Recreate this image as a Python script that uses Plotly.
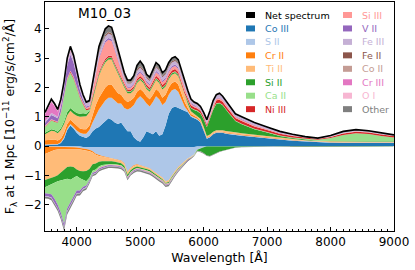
import plotly.graph_objects as go

wavelength = [3500,3550,3600,3650,3700,3750,3800,3850,3900,3950,
              4000,4050,4100,4150,4200,4250,4300,4350,4400,4450,
              4500,4550,4600,4650,4700,4750,4800,4850,4900,4950,
              5000,5050,5100,5150,5200,5250,5300,5350,5400,5450,
              5500,5550,5600,5650,5700,5750,5800,5850,5900,5950,
              6000,6050,6100,6150,6200,6250,6300,6350,6400,6450,
              6500,6600,6800,7000,7200,7400,7600,7800,8000,8200,8400,8600,8800,9000]

net_spectrum = [1.15,1.35,1.60,1.45,1.25,1.60,2.20,3.00,3.40,3.10,
                2.60,2.10,1.75,1.50,1.55,2.20,2.90,3.40,3.70,4.00,
                4.10,4.05,3.70,3.30,2.90,2.50,2.25,2.25,2.40,2.75,
                2.90,2.75,2.45,2.35,2.60,2.85,2.75,2.50,2.60,2.85,
                3.00,3.05,2.95,2.60,2.20,1.90,1.60,1.50,1.45,1.35,
                1.15,0.90,1.20,1.55,1.75,1.80,1.70,1.55,1.40,1.25,
                1.10,1.00,0.80,0.65,0.50,0.40,0.32,0.27,0.36,0.50,0.56,0.52,0.44,0.38]

# ---- emission contributions (positive) ----
co3_em = [0.03,0.04,0.05,0.05,0.05,0.10,0.25,0.55,0.70,0.60,
          0.45,0.35,0.30,0.27,0.35,0.50,0.60,0.65,0.75,0.85,
          0.95,0.90,0.80,0.75,0.80,0.65,0.50,0.50,0.30,0.20,
          0.15,0.30,0.50,0.45,0.40,0.50,0.35,0.40,0.70,1.10,
          1.30,1.35,1.30,1.25,1.20,1.15,1.00,0.95,0.90,0.80,
          0.55,0.25,0.30,0.40,0.45,0.45,0.45,0.42,0.40,0.40,
          0.38,0.35,0.30,0.27,0.22,0.18,0.15,0.12,0.11,0.10,0.10,0.10,0.10,0.10]
s2_em = [0.02,0.02,0.02,0.02,0.02,0.03,0.05,0.05,0.05,0.05,
         0.08,0.10,0.12,0.15,0.20,0.30,0.45,0.60,0.65,0.70,
         0.70,0.75,0.75,0.70,0.65,0.65,0.75,0.80,1.10,1.40,
         1.55,1.30,0.95,0.90,1.10,1.20,1.25,1.00,0.80,0.65,
         0.60,0.60,0.55,0.35,0.15,0.05,0.03,0.03,0.03,0.03,
         0.03,0.02,0.02,0.02,0.02,0.02,0.02,0.02,0.02,0.02,
         0.02,0.02,0.02,0.02,0.02,0.02,0.02,0.02,0.02,0.02,0.02,0.02,0.02,0.02]
cr2_em = [0.15,0.15,0.15,0.15,0.12,0.12,0.15,0.15,0.15,0.15,
          0.15,0.15,0.15,0.15,0.15,0.25,0.35,0.40,0.45,0.45,
          0.45,0.45,0.40,0.35,0.30,0.30,0.25,0.25,0.25,0.25,
          0.25,0.25,0.25,0.25,0.25,0.25,0.25,0.25,0.25,0.25,
          0.25,0.25,0.25,0.20,0.15,0.10,0.06,0.05,0.04,0.04,
          0.03,0.02,0.02,0.02,0.02,0.02,0.02,0.02,0.02,0.02,
          0.02,0.02,0.02,0.02,0.01,0.01,0.01,0.01,0.01,0.01,0.01,0.01,0.01,0.01]
ti2_em = [0.20,0.25,0.30,0.28,0.25,0.30,0.30,0.30,0.30,0.30,
          0.35,0.40,0.45,0.45,0.45,0.55,0.65,0.75,0.80,0.85,
          0.85,0.85,0.75,0.65,0.50,0.40,0.30,0.25,0.25,0.30,
          0.30,0.30,0.25,0.25,0.30,0.30,0.30,0.28,0.28,0.28,
          0.28,0.28,0.28,0.25,0.20,0.15,0.10,0.08,0.07,0.06,
          0.05,0.05,0.05,0.05,0.05,0.05,0.05,0.05,0.05,0.05,
          0.05,0.05,0.05,0.05,0.04,0.03,0.02,0.02,0.02,0.02,0.02,0.02,0.02,0.02]
si2_em = [0.05,0.05,0.05,0.05,0.05,0.06,0.08,0.10,0.10,0.10,
          0.10,0.10,0.10,0.08,0.05,0.05,0.05,0.05,0.05,0.05,
          0.05,0.05,0.05,0.05,0.05,0.05,0.05,0.05,0.05,0.05,
          0.05,0.05,0.05,0.05,0.05,0.05,0.05,0.05,0.05,0.05,
          0.05,0.05,0.05,0.05,0.06,0.08,0.10,0.12,0.15,0.18,
          0.25,0.30,0.52,0.75,0.90,0.92,0.85,0.73,0.62,0.50,
          0.38,0.30,0.18,0.10,0.05,0.03,0.02,0.01,0.01,0.01,0.01,0.01,0.01,0.01]
ca2_em = [0.20,0.25,0.30,0.28,0.30,0.50,0.80,1.10,1.20,1.10,
          0.85,0.55,0.30,0.12,0.05,0.03,0.02,0.02,0.02,0.02,
          0.02,0.02,0.02,0.02,0.02,0.02,0.02,0.02,0.02,0.02,
          0.02,0.02,0.02,0.02,0.02,0.02,0.02,0.02,0.02,0.02,
          0.02,0.02,0.02,0.02,0.02,0.02,0.02,0.02,0.02,0.02,
          0.02,0.02,0.02,0.02,0.02,0.02,0.02,0.02,0.02,0.02,
          0.02,0.02,0.02,0.02,0.02,0.02,0.02,0.03,0.10,0.22,0.28,0.25,0.18,0.13]
ni3_em = [0.02,0.02,0.02,0.02,0.02,0.02,0.03,0.03,0.04,0.04,
          0.04,0.04,0.04,0.04,0.05,0.06,0.06,0.06,0.06,0.06,
          0.06,0.06,0.06,0.06,0.06,0.06,0.06,0.06,0.06,0.07,
          0.07,0.07,0.07,0.07,0.07,0.08,0.08,0.08,0.08,0.08,
          0.08,0.08,0.08,0.08,0.08,0.08,0.08,0.07,0.07,0.07,
          0.07,0.07,0.08,0.09,0.10,0.10,0.10,0.10,0.10,0.09,
          0.09,0.09,0.08,0.07,0.06,0.05,0.04,0.03,0.04,0.05,0.05,0.05,0.05,0.05]
si3_em = [0.02,0.02,0.02,0.02,0.02,0.02,0.02,0.03,0.03,0.03,
          0.03,0.03,0.03,0.04,0.05,0.18,0.35,0.45,0.50,0.55,
          0.55,0.50,0.45,0.35,0.20,0.10,0.06,0.06,0.08,0.10,
          0.12,0.10,0.08,0.08,0.10,0.12,0.12,0.10,0.10,0.10,
          0.10,0.10,0.10,0.10,0.08,0.06,0.05,0.04,0.04,0.04,
          0.04,0.04,0.04,0.05,0.05,0.05,0.05,0.05,0.04,0.04,
          0.04,0.04,0.03,0.02,0.02,0.01,0.01,0.01,0.01,0.01,0.01,0.01,0.01,0.01]
v2_em = [0.10,0.12,0.15,0.14,0.12,0.20,0.30,0.45,0.55,0.48,
         0.35,0.20,0.10,0.05,0.04,0.04,0.05,0.05,0.05,0.06,
         0.06,0.06,0.06,0.05,0.05,0.04,0.04,0.04,0.04,0.05,
         0.05,0.05,0.05,0.05,0.05,0.05,0.05,0.05,0.05,0.05,
         0.05,0.05,0.05,0.05,0.04,0.03,0.03,0.03,0.02,0.02,
         0.02,0.02,0.02,0.02,0.02,0.02,0.02,0.02,0.02,0.02,
         0.02,0.02,0.02,0.01,0.01,0.01,0.00,0.00,0.00,0.00,0.00,0.00,0.00,0.00]
fe3_em = [0.05,0.06,0.07,0.06,0.05,0.06,0.07,0.08,0.10,0.10,
          0.10,0.10,0.10,0.10,0.10,0.12,0.15,0.15,0.15,0.15,
          0.15,0.15,0.15,0.15,0.12,0.10,0.10,0.10,0.10,0.12,
          0.12,0.12,0.10,0.10,0.10,0.12,0.12,0.12,0.12,0.12,
          0.12,0.12,0.12,0.12,0.11,0.10,0.08,0.07,0.07,0.06,
          0.06,0.07,0.10,0.10,0.10,0.12,0.10,0.10,0.10,0.08,
          0.07,0.08,0.07,0.06,0.04,0.03,0.02,0.02,0.02,0.03,0.03,0.02,0.02,0.02]
fe2_em = [0.00,0.00,0.00,0.00,0.00,0.00,0.00,0.00,0.00,0.00,
          0.00,0.00,0.00,0.00,0.02,0.04,0.05,0.05,0.05,0.05,
          0.05,0.05,0.05,0.05,0.05,0.05,0.04,0.04,0.04,0.05,
          0.05,0.05,0.04,0.04,0.04,0.04,0.04,0.04,0.04,0.04,
          0.04,0.04,0.04,0.04,0.03,0.03,0.02,0.02,0.02,0.01,
          0.01,0.01,0.01,0.01,0.01,0.01,0.01,0.01,0.01,0.01,
          0.01,0.01,0.01,0.01,0.01,0.01,0.01,0.00,0.00,0.00,0.00,0.00,0.00,0.00]
co2_em = [0.00,0.00,0.00,0.00,0.00,0.00,0.00,0.00,0.00,0.00,
          0.00,0.00,0.00,0.00,0.00,0.00,0.01,0.01,0.01,0.01,
          0.01,0.01,0.01,0.01,0.00,0.00,0.00,0.00,0.00,0.00,
          0.00,0.00,0.00,0.00,0.00,0.00,0.00,0.00,0.00,0.00,
          0.00,0.00,0.00,0.00,0.00,0.00,0.00,0.00,0.00,0.00,
          0.00,0.00,0.00,0.00,0.00,0.00,0.00,0.00,0.00,0.00,
          0.00,0.00,0.00,0.00,0.00,0.00,0.00,0.00,0.00,0.00,0.00,0.00,0.00,0.00]
cr3_em = [0.25,0.30,0.38,0.30,0.18,0.12,0.08,0.05,0.04,0.03,
          0.02,0.02,0.01,0.01,0.00,0.00,0.00,0.00,0.00,0.00,
          0.00,0.00,0.00,0.00,0.00,0.00,0.00,0.00,0.00,0.00,
          0.00,0.00,0.00,0.00,0.00,0.00,0.00,0.00,0.00,0.00,
          0.00,0.00,0.00,0.00,0.00,0.00,0.00,0.00,0.00,0.00,
          0.00,0.00,0.00,0.00,0.00,0.00,0.00,0.00,0.00,0.00,
          0.00,0.00,0.00,0.00,0.00,0.00,0.00,0.00,0.00,0.00,0.00,0.00,0.00,0.00]
o1_em = [0.02,0.02,0.03,0.03,0.02,0.02,0.02,0.02,0.02,0.02,
         0.02,0.01,0.01,0.00,0.00,0.00,0.00,0.00,0.00,0.00,
         0.00,0.00,0.00,0.00,0.00,0.00,0.00,0.00,0.00,0.00,
         0.00,0.00,0.00,0.00,0.00,0.00,0.00,0.00,0.00,0.00,
         0.00,0.00,0.00,0.00,0.00,0.00,0.00,0.00,0.00,0.00,
         0.00,0.00,0.00,0.00,0.00,0.00,0.00,0.00,0.00,0.00,
         0.00,0.00,0.00,0.00,0.00,0.00,0.00,0.00,0.00,0.00,0.00,0.00,0.00,0.00]
other_em = [0.04,0.05,0.06,0.05,0.05,0.05,0.05,0.09,0.12,0.10,
            0.06,0.05,0.04,0.04,0.04,0.08,0.12,0.17,0.17,0.21,
            0.21,0.21,0.16,0.12,0.10,0.08,0.08,0.08,0.11,0.14,
            0.17,0.14,0.09,0.09,0.12,0.12,0.12,0.11,0.11,0.11,
            0.11,0.11,0.11,0.09,0.08,0.05,0.03,0.02,0.02,0.02,
            0.02,0.03,0.02,0.02,0.01,0.02,0.01,0.01,0.00,0.00,
            0.00,0.00,0.00,0.00,0.00,0.00,0.00,0.00,0.02,0.03,0.03,0.03,0.02,0.01]

# ---- absorption contributions (negative) ----
co3_ab = [0.00,0.00,0.00,0.00,0.00,0.00,0.00,0.00,-0.01,-0.01,
          -0.02,-0.02,-0.03,-0.03,-0.03,-0.03,-0.04,-0.04,-0.04,-0.04,
          -0.04,-0.04,-0.04,-0.04,-0.04,-0.04,-0.04,-0.04,-0.04,-0.04,
          -0.04,-0.04,-0.04,-0.04,-0.04,-0.05,-0.05,-0.05,-0.05,-0.05,
          -0.05,-0.05,-0.04,-0.04,-0.04,-0.03,-0.03,-0.03,-0.02,-0.02,
          -0.02,-0.01,-0.01,-0.01,-0.01,-0.01,-0.01,-0.01,-0.01,-0.01,
          -0.01,-0.01,-0.01,-0.01,-0.01,0.00,0.00,0.00,0.00,0.00,0.00,0.00,0.00,0.00]
s2_ab = [-0.02,-0.02,-0.02,-0.02,-0.02,-0.02,-0.02,-0.02,-0.02,-0.03,
         -0.03,-0.04,-0.05,-0.07,-0.10,-0.15,-0.22,-0.27,-0.30,-0.33,
         -0.35,-0.37,-0.40,-0.42,-0.45,-0.55,-0.85,-0.70,-0.62,-0.58,
         -0.62,-0.65,-0.68,-0.72,-0.80,-0.88,-0.95,-1.02,-1.15,-1.12,
         -0.95,-0.80,-0.68,-0.58,-0.48,-0.40,-0.34,-0.26,-0.10,-0.05,
         -0.02,-0.01,-0.01,0.00,0.00,0.00,0.00,0.00,0.00,0.00,
         0.00,0.00,0.00,0.00,0.00,0.00,0.00,0.00,0.00,0.00,0.00,0.00,0.00,0.00]
cr2_ab = [-0.25,-0.20,-0.15,-0.12,-0.10,-0.10,-0.08,-0.08,-0.07,-0.07,
          -0.07,-0.06,-0.06,-0.05,-0.05,-0.04,-0.04,-0.03,-0.03,-0.03,
          -0.02,-0.02,-0.02,-0.02,-0.02,-0.02,-0.02,-0.02,-0.02,-0.02,
          -0.01,-0.01,-0.01,-0.01,-0.01,-0.01,-0.01,-0.01,-0.01,-0.01,
          -0.01,-0.01,-0.01,-0.01,-0.01,0.00,0.00,0.00,0.00,0.00,
          0.00,0.00,0.00,0.00,0.00,0.00,0.00,0.00,0.00,0.00,
          0.00,0.00,0.00,0.00,0.00,0.00,0.00,0.00,0.00,0.00,0.00,0.00,0.00,0.00]
ti2_ab = [-0.89,-0.91,-0.93,-0.91,-0.88,-0.78,-0.70,-0.62,-0.60,-0.61,
          -0.68,-0.73,-0.72,-0.70,-0.60,-0.40,-0.30,-0.20,-0.15,-0.12,
          -0.10,-0.09,-0.08,-0.08,-0.08,-0.07,-0.07,-0.07,-0.06,-0.06,
          -0.05,-0.05,-0.05,-0.05,-0.05,-0.05,-0.05,-0.05,-0.05,-0.05,
          -0.04,-0.04,-0.04,-0.04,-0.03,-0.03,-0.02,-0.02,-0.01,-0.01,
          0.00,0.00,0.00,0.00,0.00,0.00,0.00,0.00,0.00,0.00,
          0.00,0.00,0.00,0.00,0.00,0.00,0.00,0.00,0.00,0.00,0.00,0.00,0.00,0.00]
si2_ab = [-0.25,-0.22,-0.20,-0.20,-0.20,-0.28,-0.36,-0.40,-0.45,-0.35,
          -0.22,-0.25,-0.28,-0.35,-0.30,-0.22,-0.20,-0.16,-0.13,-0.11,
          -0.10,-0.09,-0.08,-0.08,-0.07,-0.07,-0.07,-0.06,-0.06,-0.05,
          -0.05,-0.05,-0.05,-0.05,-0.04,-0.04,-0.04,-0.04,-0.03,-0.03,
          -0.03,-0.03,-0.02,-0.02,-0.01,-0.01,0.00,0.00,-0.03,-0.10,
          -0.20,-0.30,-0.32,-0.28,-0.22,-0.18,-0.15,-0.12,-0.09,-0.06,
          -0.04,-0.02,-0.01,0.00,0.00,0.00,0.00,0.00,0.00,0.00,0.00,0.00,0.00,0.00]
ca2_ab = [-0.20,-0.27,-0.35,-0.55,-0.80,-1.10,-1.50,-1.00,-0.75,-0.65,
          -0.50,-0.42,-0.25,-0.15,-0.08,-0.07,-0.06,-0.05,-0.05,-0.04,
          -0.03,-0.03,-0.02,-0.02,-0.02,-0.02,-0.01,-0.01,-0.01,-0.01,
          -0.01,-0.01,-0.01,-0.01,-0.01,-0.01,-0.01,-0.01,-0.01,-0.01,
          -0.01,-0.01,-0.01,-0.01,-0.01,-0.01,-0.01,-0.01,-0.01,-0.01,
          0.00,0.00,0.00,0.00,0.00,0.00,0.00,0.00,0.00,0.00,
          0.00,0.00,0.00,0.00,0.00,-0.02,-0.02,-0.02,-0.02,-0.02,-0.02,-0.01,0.00,0.00]
si3_ab = [0.00,0.00,0.00,0.00,0.00,0.00,0.00,0.00,0.00,0.00,
          0.00,0.00,0.00,0.00,0.00,0.00,-0.02,-0.02,-0.02,-0.02,
          -0.02,-0.02,-0.02,-0.02,-0.02,-0.02,-0.02,-0.02,-0.02,-0.02,
          -0.02,-0.02,-0.02,-0.02,-0.02,-0.02,-0.02,-0.02,-0.02,-0.02,
          -0.02,-0.02,-0.02,-0.02,-0.02,0.00,0.00,0.00,0.00,0.00,
          0.00,0.00,0.00,0.00,0.00,0.00,0.00,0.00,0.00,0.00,
          0.00,0.00,0.00,0.00,0.00,0.00,0.00,0.00,0.00,0.00,0.00,0.00,0.00,0.00]
v2_ab = [-0.10,-0.10,-0.11,-0.12,-0.12,-0.12,-0.12,-0.11,-0.10,-0.10,
         -0.09,-0.08,-0.07,-0.06,-0.05,-0.05,-0.04,-0.04,-0.04,-0.04,
         -0.03,-0.03,-0.03,-0.03,-0.03,-0.03,-0.03,-0.03,-0.03,-0.03,
         -0.02,-0.02,-0.02,-0.02,-0.02,-0.02,-0.02,-0.02,-0.02,-0.02,
         -0.02,-0.02,-0.02,-0.01,-0.01,-0.01,-0.01,-0.01,0.00,0.00,
         0.00,0.00,0.00,0.00,0.00,0.00,0.00,0.00,0.00,0.00,
         0.00,0.00,0.00,0.00,0.00,0.00,0.00,0.00,0.00,0.00,0.00,0.00,0.00,0.00]
fe3_ab = [-0.02,-0.02,-0.02,-0.02,-0.02,-0.02,-0.02,-0.02,-0.02,-0.02,
          -0.02,-0.02,-0.02,-0.02,-0.02,-0.02,-0.02,-0.01,-0.01,-0.01,
          -0.01,-0.01,-0.01,-0.01,-0.01,-0.01,-0.01,-0.01,-0.01,-0.01,
          -0.01,-0.01,-0.01,-0.01,-0.01,-0.01,-0.01,-0.01,-0.01,-0.01,
          -0.01,-0.01,-0.01,0.00,0.00,0.00,0.00,0.00,0.00,0.00,
          0.00,0.00,0.00,0.00,0.00,0.00,0.00,0.00,0.00,0.00,
          0.00,0.00,0.00,0.00,0.00,0.00,0.00,0.00,0.00,0.00,0.00,0.00,0.00,0.00]
other_ab = [-0.06,-0.06,-0.07,-0.08,-0.08,-0.09,-0.10,-0.09,-0.08,-0.08,
            -0.07,-0.07,-0.06,-0.06,-0.06,-0.05,-0.05,-0.05,-0.05,-0.05,
            -0.05,-0.05,-0.05,-0.05,-0.05,-0.05,-0.05,-0.05,-0.05,-0.05,
            -0.05,-0.05,-0.05,-0.05,-0.05,-0.05,-0.05,-0.05,-0.05,-0.05,
            -0.04,-0.04,-0.04,-0.04,-0.03,-0.03,-0.03,-0.02,-0.02,-0.02,
            -0.02,-0.02,-0.02,-0.01,-0.01,-0.01,-0.01,-0.01,-0.01,-0.01,
            -0.01,-0.01,-0.01,-0.01,-0.01,-0.01,-0.01,-0.01,-0.01,-0.01,-0.01,-0.01,-0.01,-0.01]

species_colors = {
    "Co III": "#1f77b4", "S II": "#aec7e8", "Cr II": "#ff7f0e", "Ti II": "#ffbb78",
    "Si II": "#2ca02c", "Ca II": "#98df8a", "Ni III": "#d62728", "Si III": "#ff9896",
    "V II": "#9467bd", "Fe III": "#c5b0d5", "Fe II": "#8c564b", "Co II": "#c49c94",
    "Cr III": "#e377c2", "O I": "#f7b6d2", "Other": "#7f7f7f",
}

emission = [("Co III", co3_em), ("S II", s2_em), ("Cr II", cr2_em), ("Ti II", ti2_em),
            ("Si II", si2_em), ("Ca II", ca2_em), ("Ni III", ni3_em), ("Si III", si3_em),
            ("V II", v2_em), ("Fe III", fe3_em), ("Fe II", fe2_em), ("Co II", co2_em),
            ("Cr III", cr3_em), ("O I", o1_em), ("Other", other_em)]
absorption = [("Co III", co3_ab), ("S II", s2_ab), ("Cr II", cr2_ab), ("Ti II", ti2_ab),
              ("Si II", si2_ab), ("Ca II", ca2_ab), ("Si III", si3_ab), ("V II", v2_ab),
              ("Fe III", fe3_ab), ("Other", other_ab)]

legend_col1 = ["Net spectrum", "Co III", "S II", "Cr II", "Ti II", "Si II", "Ca II", "Ni III"]
legend_col2 = ["Si III", "V II", "Fe III", "Fe II", "Co II", "Cr III", "O I", "Other"]

fig = go.Figure()
for name, vals in emission:
    c = species_colors[name]
    fig.add_trace(go.Scatter(x=wavelength, y=vals, name=name, stackgroup="emission",
                             mode="lines", line=dict(width=0, color=c), fillcolor=c,
                             showlegend=False, hoverinfo="skip"))
for name, vals in absorption:
    c = species_colors[name]
    fig.add_trace(go.Scatter(x=wavelength, y=vals, name=name, stackgroup="absorption",
                             mode="lines", line=dict(width=0, color=c), fillcolor=c,
                             showlegend=False, hoverinfo="skip"))
fig.add_trace(go.Scatter(x=wavelength, y=net_spectrum, name="Net spectrum", mode="lines",
                         line=dict(color="black", width=1.6), showlegend=False))

W, H = 415, 270
L, R, T, B = 45, 394, 2, 231

def px_x(px):
    return (px - L) / (R - L)

def px_y(py):
    return (B - py) / (B - T)

FONT = "DejaVu Sans"
shapes = []
annotations = []
for col, (sq_x0, txt_x) in zip([legend_col1, legend_col2], [(246, 263), (343, 360)]):
    for i, name in enumerate(col):
        yc = 15 + 13.45 * i
        color = "black" if name == "Net spectrum" else species_colors[name]
        shapes.append(dict(type="rect", xref="paper", yref="paper",
                           x0=px_x(sq_x0), x1=px_x(sq_x0 + 9),
                           y0=px_y(yc + 3), y1=px_y(yc - 3),
                           fillcolor=color, line=dict(width=0)))
        annotations.append(dict(text=name, xref="paper", yref="paper",
                                x=px_x(txt_x), y=px_y(yc), xanchor="left", yanchor="middle",
                                showarrow=False, font=dict(family=FONT, size=9.5, color=color)))

annotations.append(dict(text="M10_03", xref="paper", yref="paper", x=px_x(104), y=px_y(13),
                        xanchor="center", yanchor="middle", showarrow=False,
                        font=dict(family=FONT, size=13.6, color="black")))

fig.update_layout(
    width=W, height=H,
    margin=dict(l=L, r=W - R, t=T, b=H - B),
    paper_bgcolor="white", plot_bgcolor="white",
    font=dict(family=FONT, size=12, color="black"),
    showlegend=False, hovermode=False,
    shapes=shapes, annotations=annotations,
)
fig.update_xaxes(range=[3500, 9000], tickmode="array", tickvals=[4000, 5000, 6000, 7000, 8000, 9000],
                 ticks="inside", ticklen=4, tickcolor="black", showgrid=False, zeroline=False,
                 showline=True, linecolor="black", linewidth=1, mirror=True,
                 minor=dict(ticks="inside", ticklen=2, dtick=100, tick0=3500, tickcolor="black"),
                 title=dict(text="Wavelength [Å]", font=dict(size=12.5), standoff=4),
                 tickfont=dict(size=12))
fig.update_yaxes(range=[-2.9, 4.915], tickmode="array", tickvals=[-2, -1, 0, 1, 2, 3, 4],
                 ticks="inside", ticklen=4, tickcolor="black", showgrid=False, zeroline=False,
                 showline=True, linecolor="black", linewidth=1, mirror=True,
                 title=dict(text="F<sub>λ</sub> at 1 Mpc [10<sup>−11</sup> erg/s/cm<sup>2</sup>/Å]",
                            font=dict(size=12.5), standoff=6),
                 tickfont=dict(size=12))

fig.write_html("out.html", config={"displayModeBar": False},
               post_script="document.body.style.margin='0';document.body.style.overflow='hidden';")
